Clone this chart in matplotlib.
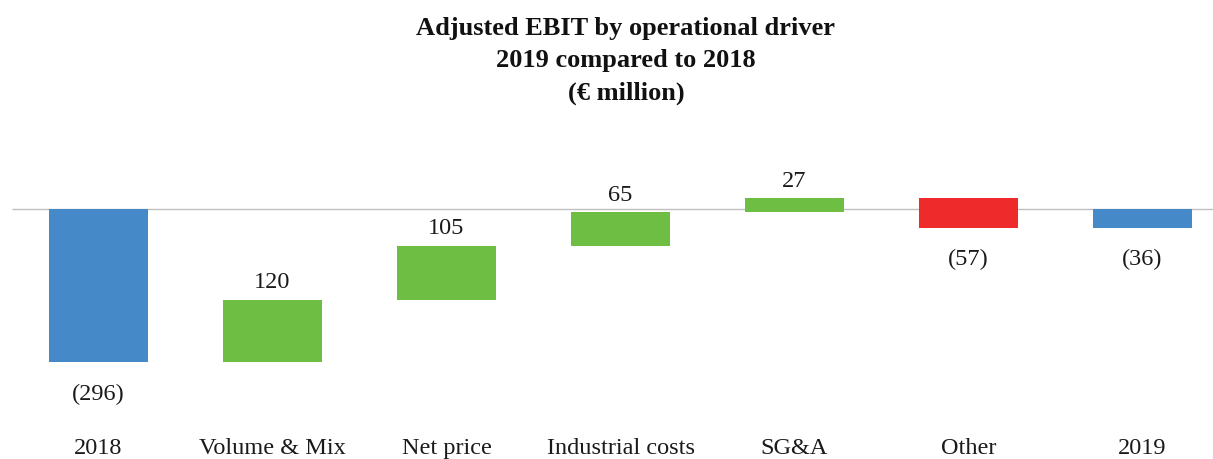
import matplotlib.pyplot as plt

categories = ["2018", "Volume & Mix", "Net price", "Industrial costs", "SG&A", "Other", "2019"]
deltas = [-296, 120, 105, 65, 27, -57, -36]
labels = ["(296)", "120", "105", "65", "27", "(57)", "(36)"]
is_total = [True, False, False, False, False, False, True]

BLUE = "#4589C8"
GREEN = "#6EBE44"
RED = "#EE2A2A"

plt.rcParams['font.family'] = ['Liberation Serif', 'DejaVu Serif']

fig = plt.figure(figsize=(12.13, 4.6), dpi=100)
# axes spans y px 130..420 from top
ax = fig.add_axes([0, 40 / 460, 1, 290 / 460])

bottoms = []
colors = []
running = 0
for d, tot in zip(deltas, is_total):
    if tot:
        bottoms.append(0)
        colors.append(BLUE)
        running = d
    else:
        bottoms.append(running)
        colors.append(GREEN if d > 0 else RED)
        running += d

x = list(range(len(categories)))
ax.bar(x, deltas, bottom=bottoms, width=0.57, color=colors, zorder=2)
ax.hlines(0, -0.497, 6.5, color="#BFBFBF", linewidth=1, zorder=1)

for i in x:
    top = max(bottoms[i], bottoms[i] + deltas[i])
    low = min(bottoms[i], bottoms[i] + deltas[i])
    if deltas[i] > 0:
        ax.annotate(labels[i], (i, top), xytext=(0, 13), textcoords="offset points",
                    ha="center", va="center", fontsize=17.5, color="#1a1a1a")
    else:
        ax.annotate(labels[i], (i, low), xytext=(0, -22.5), textcoords="offset points",
                    ha="center", va="center", fontsize=17.5, color="#1a1a1a")

ax.set_xlim(-0.566, 6.405)
ax.set_ylim(-407, 155)
ax.set_xticks(x)
ax.set_xticklabels(categories, fontsize=17.5, color="#1a1a1a")
ax.tick_params(axis="x", length=0, pad=13)
ax.set_yticks([])
for s in ax.spines.values():
    s.set_visible(False)

title_lines = ["Adjusted EBIT by operational driver", "2019 compared to 2018", "(€ million)"]
for k, line in enumerate(title_lines):
    fig.text(626 / 1213, 1 - (29 + 32 * k) / 460, line,
             ha="center", va="center", fontsize=19, fontweight="bold", color="#111111")

fig.savefig("out.png", dpi=100)
